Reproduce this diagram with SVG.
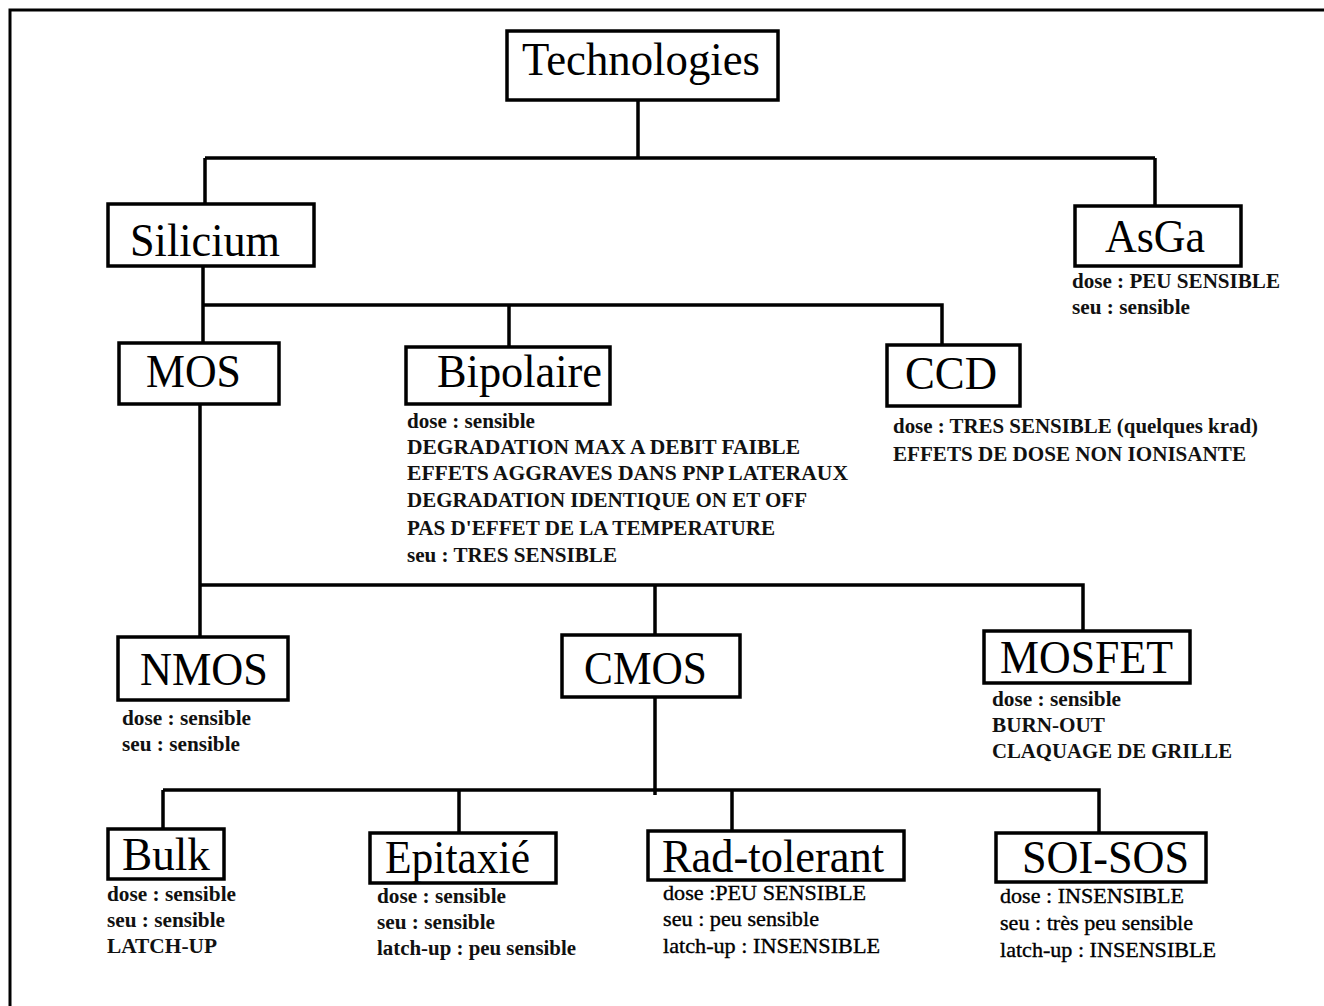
<svg xmlns="http://www.w3.org/2000/svg" width="1324" height="1006" viewBox="0 0 1324 1006">
<style>
.bg{fill:#fff}
.frame{fill:none;stroke:#000;stroke-width:3}
.box{fill:#fff;stroke:#000;stroke-width:3.5}
.lbl{font-family:"Liberation Serif","Times New Roman",serif;font-size:47px;fill:#000}
.note{font-family:"Liberation Serif","Times New Roman",serif;font-size:20px;font-weight:bold;fill:#111}
.note2{font-family:"Liberation Serif","Times New Roman",serif;font-size:21px;fill:#000;stroke:#000;stroke-width:0.35}
.con{fill:none;stroke:#000;stroke-width:3.5}
</style>
<rect class="bg" x="0" y="0" width="1324" height="1006"/>
<path class="frame" d="M10,1006 V10 H1324"/>
<g id="connectors">
<path class="con" d="M638,100 V158 M205,158 H1155 M205,158 V204 M1155,158 V206"/>
<path class="con" d="M203,266 V343 M203,305 H942 V345 M509,305 V347"/>
<path class="con" d="M200,404 V637 M200,585 H1083 V631 M655,585 V635"/>
<path class="con" d="M655,697 V795 M163,790 H1099 V833 M163,790 V829 M459,790 V833 M732,790 V831"/>
</g>
<g id="technologies">
<rect class="box" x="507" y="31" width="271" height="69"/>
<text class="lbl" x="522" y="75" textLength="238" lengthAdjust="spacingAndGlyphs">Technologies</text>
</g>
<g id="silicium">
<rect class="box" x="108" y="204" width="206" height="62"/>
<text class="lbl" x="130" y="256" textLength="150" lengthAdjust="spacingAndGlyphs">Silicium</text>
</g>
<g id="asga">
<rect class="box" x="1075" y="206" width="166" height="60"/>
<text class="lbl" x="1105" y="252" textLength="100" lengthAdjust="spacingAndGlyphs">AsGa</text>
<text class="note" x="1072" y="288" textLength="208" lengthAdjust="spacingAndGlyphs">dose : PEU SENSIBLE</text>
<text class="note" x="1072" y="314" textLength="118" lengthAdjust="spacingAndGlyphs">seu : sensible</text>
</g>
<g id="mos">
<rect class="box" x="119" y="343" width="160" height="61"/>
<text class="lbl" x="146" y="387" textLength="95" lengthAdjust="spacingAndGlyphs">MOS</text>
</g>
<g id="bipolaire">
<rect class="box" x="406" y="347" width="204" height="57"/>
<text class="lbl" x="437" y="387" textLength="165" lengthAdjust="spacingAndGlyphs">Bipolaire</text>
<text class="note" x="407" y="428" textLength="128" lengthAdjust="spacingAndGlyphs">dose : sensible</text>
<text class="note" x="407" y="454" textLength="393" lengthAdjust="spacingAndGlyphs">DEGRADATION MAX A DEBIT FAIBLE</text>
<text class="note" x="407" y="480" textLength="441" lengthAdjust="spacingAndGlyphs">EFFETS AGGRAVES DANS PNP LATERAUX</text>
<text class="note" x="407" y="507" textLength="400" lengthAdjust="spacingAndGlyphs">DEGRADATION IDENTIQUE ON ET OFF</text>
<text class="note" x="407" y="535" textLength="368" lengthAdjust="spacingAndGlyphs">PAS D'EFFET DE LA TEMPERATURE</text>
<text class="note" x="407" y="562" textLength="210" lengthAdjust="spacingAndGlyphs">seu : TRES SENSIBLE</text>
</g>
<g id="ccd">
<rect class="box" x="887" y="345" width="133" height="61"/>
<text class="lbl" x="905" y="389" textLength="92" lengthAdjust="spacingAndGlyphs">CCD</text>
<text class="note" x="893" y="433" textLength="365" lengthAdjust="spacingAndGlyphs">dose : TRES SENSIBLE (quelques krad)</text>
<text class="note" x="893" y="461" textLength="353" lengthAdjust="spacingAndGlyphs">EFFETS DE DOSE NON IONISANTE</text>
</g>
<g id="nmos">
<rect class="box" x="118" y="637" width="170" height="63"/>
<text class="lbl" x="140" y="685" textLength="128" lengthAdjust="spacingAndGlyphs">NMOS</text>
<text class="note" x="122" y="725" textLength="129" lengthAdjust="spacingAndGlyphs">dose : sensible</text>
<text class="note" x="122" y="751" textLength="118" lengthAdjust="spacingAndGlyphs">seu : sensible</text>
</g>
<g id="cmos">
<rect class="box" x="562" y="635" width="178" height="62"/>
<text class="lbl" x="584" y="684" textLength="123" lengthAdjust="spacingAndGlyphs">CMOS</text>
</g>
<g id="mosfet">
<rect class="box" x="984" y="631" width="206" height="52"/>
<text class="lbl" x="1000" y="673" textLength="173" lengthAdjust="spacingAndGlyphs">MOSFET</text>
<text class="note" x="992" y="706" textLength="129" lengthAdjust="spacingAndGlyphs">dose : sensible</text>
<text class="note" x="992" y="732" textLength="113" lengthAdjust="spacingAndGlyphs">BURN-OUT</text>
<text class="note" x="992" y="758" textLength="240" lengthAdjust="spacingAndGlyphs">CLAQUAGE DE GRILLE</text>
</g>
<g id="bulk">
<rect class="box" x="108" y="829" width="116" height="50"/>
<text class="lbl" x="122" y="870" textLength="88" lengthAdjust="spacingAndGlyphs">Bulk</text>
<text class="note" x="107" y="901" textLength="129" lengthAdjust="spacingAndGlyphs">dose : sensible</text>
<text class="note" x="107" y="927" textLength="118" lengthAdjust="spacingAndGlyphs">seu : sensible</text>
<text class="note" x="107" y="953" textLength="110" lengthAdjust="spacingAndGlyphs">LATCH-UP</text>
</g>
<g id="epitaxie">
<rect class="box" x="370" y="833" width="186" height="50"/>
<text class="lbl" x="385" y="873" textLength="145" lengthAdjust="spacingAndGlyphs">Epitaxié</text>
<text class="note" x="377" y="903" textLength="129" lengthAdjust="spacingAndGlyphs">dose : sensible</text>
<text class="note" x="377" y="929" textLength="118" lengthAdjust="spacingAndGlyphs">seu : sensible</text>
<text class="note" x="377" y="955" textLength="199" lengthAdjust="spacingAndGlyphs">latch-up : peu sensible</text>
</g>
<g id="radtolerant">
<rect class="box" x="648" y="831" width="256" height="49"/>
<text class="lbl" x="662" y="872" textLength="222" lengthAdjust="spacingAndGlyphs">Rad-tolerant</text>
<text class="note2" x="663" y="900" textLength="203" lengthAdjust="spacingAndGlyphs">dose :PEU SENSIBLE</text>
<text class="note2" x="663" y="926" textLength="156" lengthAdjust="spacingAndGlyphs">seu : peu sensible</text>
<text class="note2" x="663" y="953" textLength="217" lengthAdjust="spacingAndGlyphs">latch-up : INSENSIBLE</text>
</g>
<g id="soisos">
<rect class="box" x="996" y="833" width="210" height="49"/>
<text class="lbl" x="1022" y="873" textLength="167" lengthAdjust="spacingAndGlyphs">SOI-SOS</text>
<text class="note2" x="1000" y="903" textLength="184" lengthAdjust="spacingAndGlyphs">dose : INSENSIBLE</text>
<text class="note2" x="1000" y="930" textLength="193" lengthAdjust="spacingAndGlyphs">seu : très peu sensible</text>
<text class="note2" x="1000" y="957" textLength="216" lengthAdjust="spacingAndGlyphs">latch-up : INSENSIBLE</text>
</g>
</svg>
